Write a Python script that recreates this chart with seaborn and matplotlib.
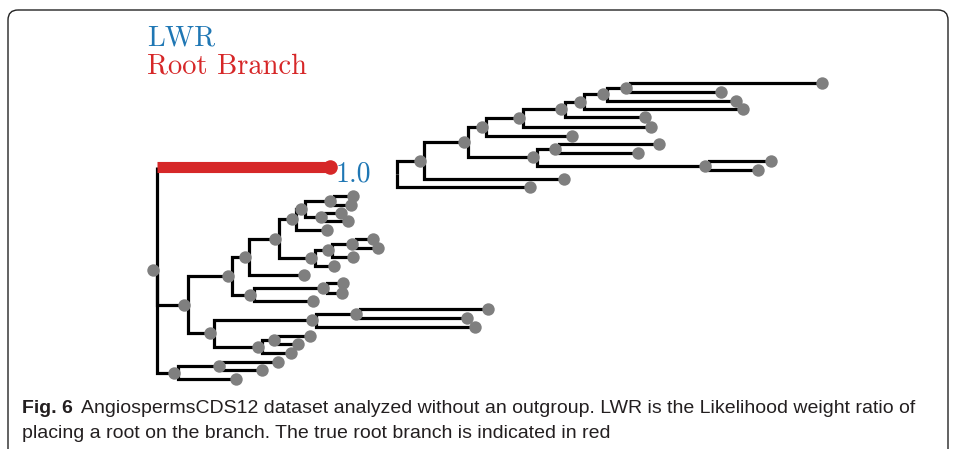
import matplotlib
matplotlib.use("Agg")
import matplotlib.pyplot as plt
import seaborn as sns
import pandas as pd
from matplotlib.patches import FancyBboxPatch

# ---- tree data (node name, parent, horizontal depth, leaf vertical position) ----
node_name = ["L0", "RB", "A", "B", "C", "D", "E", "F", "G", "G1", "g1a", "g1b",
             "G2", "g2a", "g2b", "f1", "H", "H1", "H2", "h2a", "h2b", "h1", "h0",
             "d0", "I", "I1", "i1a", "i1b", "i0", "J", "K", "K1", "k1a", "k1b",
             "k0", "M", "M1", "m1a", "m1b", "m0", "N", "na", "nb", "b0",
             "R0", "R1", "R2", "R3", "R4", "R5", "R6", "R6b", "R6c", "r6ca",
             "r6cb", "r6b", "r6", "r5", "r4", "r3", "R7", "R8", "r8a", "r8b",
             "R9", "r9a", "r9b", "r1", "r0"]
node_parent = [None, "L0", "L0", "L0", "A", "C", "D", "E", "F", "G", "G1", "G1",
               "G", "G2", "G2", "F", "E", "H", "H1", "H2", "H2", "H1", "H",
               "D", "C", "I", "I1", "I1", "I", "A", "J", "K", "K1", "K1",
               "K", "J", "M", "M1", "M1", "M", "B", "N", "N", "B",
               None, "R0", "R1", "R2", "R3", "R4", "R5", "R6", "R6b", "R6c",
               "R6c", "R6b", "R6", "R5", "R4", "R3", "R2", "R7", "R8", "R8",
               "R7", "R9", "R9", "R1", "R0"]
node_depth = [157, 330, 188, 178, 232, 249, 279, 296, 305, 334, 353, 351,
              325, 341, 348, 327, 315, 332, 356, 373, 378, 353, 334,
              304, 254, 327, 343, 342, 313, 214, 316, 360, 488, 467,
              475, 262, 278, 310, 298, 291, 223, 278, 262, 236,
              397, 424, 468, 486, 523, 565, 584, 607, 630, 822,
              721, 736, 743, 645, 651, 572, 537, 559, 659, 638,
              709, 771, 758, 564, 530]
leaf_pos = {"RB": 167, "g1a": 196, "g1b": 205, "g2a": 213, "g2b": 221, "f1": 230,
            "h2a": 239, "h2b": 248, "h1": 257, "h0": 266, "d0": 275, "i1a": 283,
            "i1b": 293, "i0": 301, "k1a": 309, "k1b": 318, "k0": 327, "m1a": 336,
            "m1b": 344, "m0": 353, "na": 362, "nb": 370, "b0": 379,
            "r6ca": 83, "r6cb": 92, "r6b": 101, "r6": 109, "r5": 117, "r4": 127,
            "r3": 136, "r8a": 144, "r8b": 153, "r9a": 161, "r9b": 170,
            "r1": 179, "r0": 187}
root_branch = "RB"
root_lwr = "1.0"
legend_labels = ["LWR", "Root Branch"]
caption_bold = "Fig. 6"
caption_lines = ["AngiospermsCDS12 dataset analyzed without an outgroup. LWR is the Likelihood weight ratio of",
                 "placing a root on the branch. The true root branch is indicated in red"]

BLUE = "#1f77b4"
RED = "#d62728"
GRAY = "#7f7f7f"

# ---- derive layout ----
depth = dict(zip(node_name, node_depth))
parent = dict(zip(node_name, node_parent))
children = {n: [] for n in node_name}
for n, p in zip(node_name, node_parent):
    if p is not None:
        children[p].append(n)

ypos = {}
def get_y(n):
    if n in ypos:
        return ypos[n]
    if not children[n]:
        ypos[n] = leaf_pos[n]
    else:
        cy = [get_y(c) for c in children[n]]
        ypos[n] = (min(cy) + max(cy)) / 2
    return ypos[n]
for n in node_name:
    get_y(n)

rows = []
for i, n in enumerate(node_name):
    p = parent[n]
    if p is None:
        continue
    pts = [(depth[p], ypos[p]), (depth[p], ypos[n])]
    if n != root_branch:
        pts.append((depth[n], ypos[n]))
    for (x, y) in pts:
        rows.append({"seg": i, "x": x, "y": y})
seg_df = pd.DataFrame(rows)

dots = []
for n in node_name:
    if n == root_branch or n == "R0":
        continue
    if children[n]:
        dots.append({"x": depth[n] - 4.5, "y": ypos[n]})
    else:
        dots.append({"x": depth[n], "y": ypos[n]})
dot_df = pd.DataFrame(dots)

red_df = pd.DataFrame({"x": [depth[parent[root_branch]], depth[root_branch]],
                       "y": [ypos[root_branch], ypos[root_branch]]})

# ---- draw ----
sns.set_theme(style="white")
fig = plt.figure(figsize=(9.55, 4.49), dpi=100)
ax = fig.add_axes([0, 0, 1, 1])

sns.lineplot(data=seg_df, x="x", y="y", units="seg", estimator=None, sort=False,
             color="black", lw=2.3, solid_joinstyle="miter", solid_capstyle="butt",
             ax=ax, legend=False)
sns.lineplot(data=red_df, x="x", y="y", estimator=None, sort=False, color=RED,
             lw=8, solid_capstyle="butt", ax=ax, legend=False)
sns.scatterplot(data=dot_df, x="x", y="y", color=GRAY, s=80, linewidth=0,
                ax=ax, zorder=3, legend=False)
ax.scatter([depth[root_branch]], [ypos[root_branch]], s=110, color=RED,
           linewidths=0, zorder=4)

ax.set_xlim(0, 955)
ax.set_ylim(449, 0)
ax.axis("off")

serif = ["cmr10", "DejaVu Serif"]
ax.text(depth[root_branch] + 6, ypos[root_branch] + 14, root_lwr, color=BLUE,
        fontsize=20, family=serif, va="baseline", ha="left")
ax.text(147, 46, legend_labels[0], color=BLUE, fontsize=20.5, family=serif, va="baseline")
ax.text(147, 73, legend_labels[1], color=RED, fontsize=20.5, family=serif, va="baseline")

# border of the figure panel
box = FancyBboxPatch((8, 10), 940, 470, boxstyle="round,pad=0,rounding_size=10",
                     ec="#222222", fc="none", lw=1.0, clip_on=False)
ax.add_patch(box)

# caption
cap_font = ["Liberation Sans", "DejaVu Sans"]
tb = ax.text(22, 413, caption_bold, fontsize=14, fontweight="bold", family=cap_font,
             va="baseline", color="#231f20")
fig.canvas.draw()
bb = tb.get_window_extent()
ax.text(bb.x1 + 8, 413, caption_lines[0], fontsize=14, family=cap_font,
        va="baseline", color="#231f20")
ax.text(22, 438, caption_lines[1], fontsize=14, family=cap_font,
        va="baseline", color="#231f20")

fig.savefig("out.png", dpi=100)
